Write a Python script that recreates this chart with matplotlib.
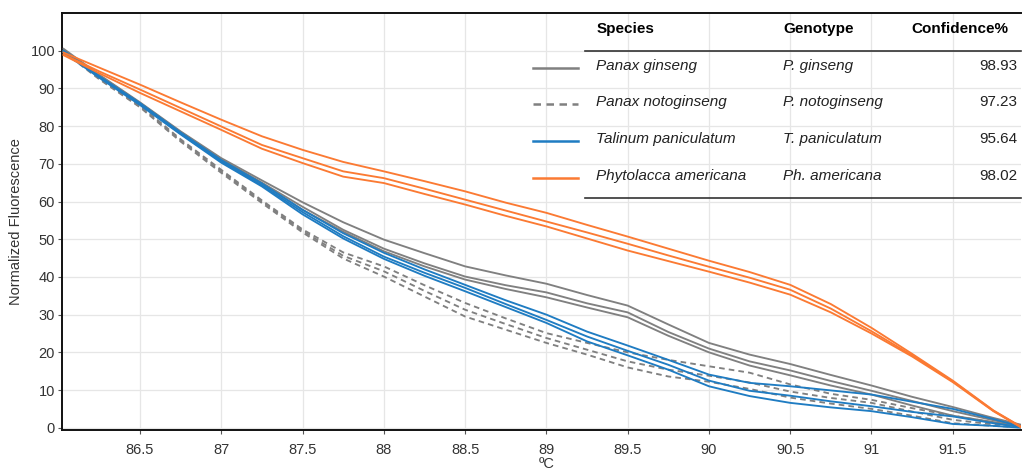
import matplotlib
matplotlib.use("Agg")
import matplotlib.pyplot as plt
from matplotlib.lines import Line2D

plt.rcParams['font.family'] = ['Liberation Sans', 'DejaVu Sans']

# ---- data (three replicates per species) ----
temps = [86.03, 86.25, 86.5, 86.75, 87.0, 87.25, 87.5, 87.75, 88.0, 88.25,
         88.5, 88.75, 89.0, 89.25, 89.5, 89.75, 90.0, 90.25, 90.5, 90.75,
         91.0, 91.25, 91.5, 91.75, 91.92]

ginseng = [
    [100.5, 93.6, 86.3, 78.6, 71.5, 65.6, 59.8, 54.5, 49.9, 46.3, 42.8, 40.4, 38.2,
     35.2, 32.4, 27.4, 22.5, 19.4, 16.9, 14.0, 11.2, 8.2, 5.5, 2.6, 0.8],
    [100.0, 93.4, 86.1, 78.4, 71.2, 65.0, 58.6, 52.5, 47.5, 43.6, 40.1, 37.8, 35.9,
     33.0, 30.6, 25.4, 21.0, 17.6, 15.2, 12.4, 9.8, 7.1, 4.4, 2.0, 0.5],
    [99.8, 93.2, 85.9, 78.2, 70.9, 64.7, 57.8, 52.0, 46.8, 42.8, 39.3, 36.8, 34.6,
     31.9, 29.3, 24.4, 20.0, 16.5, 13.9, 11.2, 8.8, 5.9, 3.2, 1.5, 0.3],
]
notoginseng = [
    [100.3, 92.8, 85.5, 76.5, 68.4, 60.3, 52.6, 46.5, 42.8, 37.8, 33.1, 29.0, 25.1,
     22.5, 20.0, 18.0, 16.3, 14.6, 11.5, 9.0, 7.4, 5.2, 3.2, 1.4, 0.3],
    [100.0, 92.6, 85.2, 76.2, 68.0, 60.0, 52.2, 45.6, 41.5, 36.3, 31.3, 27.5, 23.8,
     20.7, 17.6, 15.4, 13.8, 12.0, 9.6, 7.9, 6.6, 4.3, 2.1, 0.9, 0.2],
    [99.7, 92.4, 85.0, 75.9, 67.6, 59.6, 51.8, 44.9, 40.1, 34.8, 29.5, 26.0, 22.5,
     19.4, 16.0, 13.6, 12.2, 10.3, 8.0, 6.4, 5.0, 3.2, 1.2, 0.5, 0.1],
]
talinum = [
    [100.0, 93.2, 86.1, 78.3, 71.0, 64.8, 57.8, 51.6, 46.4, 42.0, 37.9, 33.8, 30.0,
     25.5, 21.8, 18.0, 14.1, 11.9, 11.0, 9.9, 8.8, 6.9, 5.0, 2.3, 0.3],
    [99.7, 93.0, 85.8, 78.0, 70.6, 64.3, 57.2, 50.8, 45.4, 41.1, 37.1, 32.8, 28.6,
     24.2, 20.4, 16.7, 12.5, 9.8, 8.5, 7.0, 5.7, 4.2, 3.0, 1.2, 0.2],
    [99.5, 92.8, 85.6, 77.8, 70.3, 64.0, 56.6, 50.2, 44.8, 40.3, 36.2, 32.0, 27.8,
     22.9, 19.2, 15.4, 11.0, 8.4, 6.6, 5.4, 4.4, 2.8, 1.0, 0.5, 0.0],
]
phytolacca = [
    [99.5, 95.5, 91.0, 86.3, 81.7, 77.3, 73.7, 70.5, 68.0, 65.4, 62.7, 59.7, 57.0,
     53.8, 50.7, 47.5, 44.3, 41.3, 37.9, 32.8, 26.5, 19.6, 12.5, 4.6, 0.3],
    [99.0, 94.5, 89.7, 84.8, 79.9, 75.0, 71.5, 68.0, 66.2, 63.4, 60.5, 57.6, 54.7,
     51.8, 48.8, 45.7, 42.7, 39.8, 36.6, 31.6, 25.6, 19.2, 12.3, 4.5, 0.2],
    [98.8, 94.0, 88.8, 83.9, 79.0, 74.0, 70.2, 66.6, 64.9, 62.0, 59.2, 56.2, 53.4,
     50.2, 47.0, 44.2, 41.4, 38.5, 35.3, 30.6, 25.0, 18.9, 12.1, 4.4, 0.1],
]

species = ['Panax ginseng', 'Panax notoginseng', 'Talinum paniculatum',
           'Phytolacca americana']
genotypes = ['P. ginseng', 'P. notoginseng', 'T. paniculatum', 'Ph. americana']
confidence = ['98.93', '97.23', '95.64', '98.02']

GRAY = '#808080'
BLUE = '#1f7cc2'
ORANGE = '#fb7a33'
styles = [(GRAY, '-'), (GRAY, (0, (3, 2.2))), (BLUE, '-'), (ORANGE, '-')]
groups = [ginseng, notoginseng, talinum, phytolacca]

W, H = 1022, 471
fig = plt.figure(figsize=(W / 100, H / 100), dpi=100)
ax = fig.add_axes([62 / W, 1 - 430 / H, 959 / W, 417 / H])


def fx(px):
    return px / W


def fy(py):
    return 1 - py / H


for reps, (col, ls) in zip(groups, styles):
    for rep in reps:
        ax.plot(temps, rep, color=col, linestyle=ls, linewidth=1.35, zorder=3)

ax.set_xlim(86.02, 91.92)
ax.set_ylim(-0.6, 110)
ax.set_xticks([86.5, 87, 87.5, 88, 88.5, 89, 89.5, 90, 90.5, 91, 91.5])
ax.set_xticklabels(['86.5', '87', '87.5', '88', '88.5', '89', '89.5', '90',
                    '90.5', '91', '91.5'])
ax.set_yticks(range(0, 101, 10))
ax.grid(True, color='#e6e6e6', linewidth=0.9, zorder=0)
ax.set_axisbelow(True)
ax.tick_params(axis='both', labelsize=10.5, labelcolor='#333333', color='#555555',
               length=3, width=0.8)
ax.tick_params(axis='x', pad=6)
ax.tick_params(axis='y', pad=2)
for side in ['left', 'bottom', 'top']:
    ax.spines[side].set_linewidth(1.4)
    ax.spines[side].set_color('#111111')
ax.spines['right'].set_visible(False)

ax.set_ylabel('Normalized Fluorescence', fontsize=10.5, color='#333333')
ax.yaxis.set_label_coords(-0.041, 0.5)
ax.set_xlabel('ºC', fontsize=10.5, color='#333333')
ax.xaxis.set_label_coords(0.505, -0.064)

# ---- table-style legend ----
hdr_y = 29
fs = 11
fig.text(fx(597), fy(hdr_y), 'Species', fontsize=fs, fontweight='bold',
         va='center', ha='left')
fig.text(fx(783), fy(hdr_y), 'Genotype', fontsize=fs, fontweight='bold',
         va='center', ha='left')
fig.text(fx(1008), fy(hdr_y), 'Confidence%', fontsize=fs, fontweight='bold',
         va='center', ha='right')
fig.add_artist(Line2D([fx(585), fx(1021)], [fy(51), fy(51)], color='#333333',
                      linewidth=1.2))
fig.add_artist(Line2D([fx(585), fx(1021)], [fy(198), fy(198)], color='#333333',
                      linewidth=1.2))

row_y = [66, 102, 139, 176]
for i, ry in enumerate(row_y):
    col, ls = styles[i]
    fig.add_artist(Line2D([fx(533), fx(578)], [fy(ry + 2), fy(ry + 2)], color=col,
                          linestyle=ls, linewidth=1.8))
    fig.text(fx(596), fy(ry), species[i], fontsize=fs, style='italic',
             color='#222222', va='center', ha='left')
    fig.text(fx(783), fy(ry), genotypes[i], fontsize=fs, style='italic',
             color='#222222', va='center', ha='left')
    fig.text(fx(1017), fy(ry), confidence[i], fontsize=fs, color='#222222',
             va='center', ha='right')

fig.savefig('out.png', dpi=100)
